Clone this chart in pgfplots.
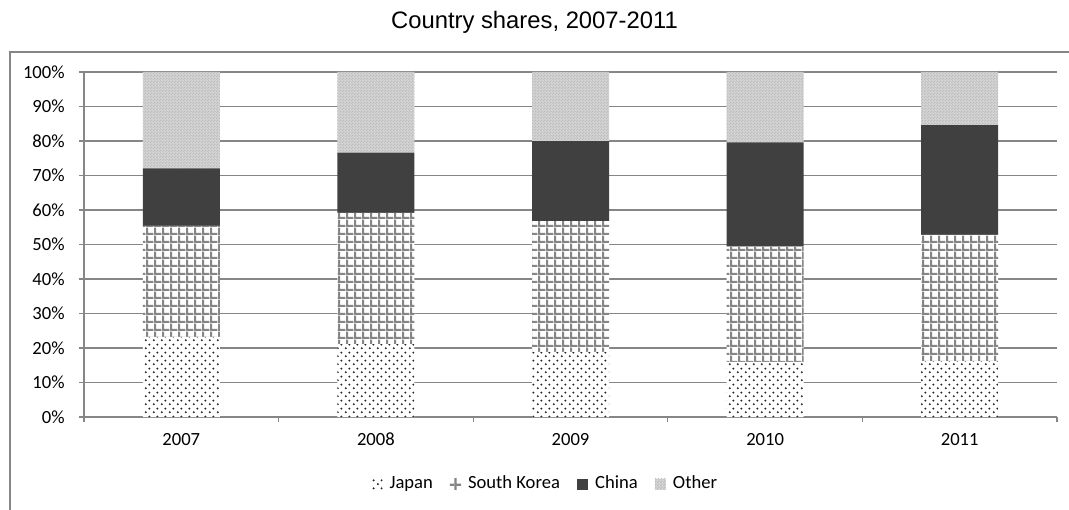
\documentclass[border=0pt]{standalone}
\usepackage{fontspec}
\setmainfont{Carlito}
\newfontfamily\arialfont{Liberation Sans}
\usepackage{pgfplots}
\pgfplotsset{compat=1.18}
\usetikzlibrary{patterns}
\definecolor{axgray}{RGB}{134,134,134}
\definecolor{china}{RGB}{64,64,64}
\definecolor{othergray}{RGB}{212,212,212}
\pgfdeclarepatternformonly{jdots}{\pgfqpoint{0pt}{0pt}}{\pgfqpoint{4pt}{4pt}}{\pgfqpoint{4pt}{4pt}}{%
  \pgfpathcircle{\pgfqpoint{1pt}{1pt}}{0.6pt}%
  \pgfpathcircle{\pgfqpoint{3pt}{3pt}}{0.6pt}%
  \pgfusepath{fill}}
\pgfdeclarepatternformonly{skgrid}{\pgfqpoint{0pt}{0pt}}{\pgfqpoint{3.85pt}{3.85pt}}{\pgfqpoint{3.85pt}{3.85pt}}{%
  \pgfpathrectangle{\pgfqpoint{0pt}{0pt}}{\pgfqpoint{3.85pt}{1.1pt}}%
  \pgfpathrectangle{\pgfqpoint{0pt}{0pt}}{\pgfqpoint{1.1pt}{3.85pt}}%
  \pgfusepath{fill}}
\pgfdeclarepatternformonly{ochecker}{\pgfqpoint{0pt}{0pt}}{\pgfqpoint{1.5pt}{1.5pt}}{\pgfqpoint{1.5pt}{1.5pt}}{%
  \pgfpathrectangle{\pgfqpoint{0pt}{0pt}}{\pgfqpoint{0.75pt}{0.75pt}}%
  \pgfpathrectangle{\pgfqpoint{0.75pt}{0.75pt}}{\pgfqpoint{0.75pt}{0.75pt}}%
  \pgfusepath{fill}}
\begin{document}
\begin{tikzpicture}
\path[use as bounding box] (-42pt,-46pt) rectangle (492.5pt,208.5pt);
\draw[axgray, line width=0.7pt] (-37pt,-80pt) -- (-37pt,182.5pt) -- (520pt,182.5pt);
\node[font=\arialfont\fontsize{11.9}{14}\selectfont] at (225.25pt,197.5pt) {Country shares, 2007-2011};
\begin{axis}[
  at={(0pt,0pt)}, anchor=south west,
  scale only axis, width=486.5pt, height=172.5pt,
  xmin=-0.5, xmax=4.5, ymin=0, ymax=100,
  ybar stacked, bar width=38.5pt,
  axis x line*=bottom, axis y line*=left,
  axis line style={axgray, line width=0.8pt},
  ymajorgrids, grid style={axgray, line width=0.6pt},
  ytick={0,10,...,100},
  yticklabel={\pgfmathprintnumber{\tick}\%},
  xtick={-0.5,0.5,...,4.5}, xticklabels={},
  extra x ticks={0,1,2,3,4},
  extra x tick labels={2007,2008,2009,2010,2011},
  extra x tick style={major tick length=0pt, grid=none},
  tick align=outside, major tick length=2.5pt,
  tick style={axgray, line width=0.6pt},
  tick label style={font=\fontsize{9.3}{11}\selectfont, inner sep=0pt},
  xticklabel style={anchor=north, text height=6.5pt, text depth=1.5pt, yshift=-7.5pt},
  yticklabel style={xshift=-7pt},
  /pgf/number format/assume math mode=true,
  legend columns=4,
  legend style={at={(0.474,-0.195)}, anchor=center, draw=none, fill=none,
    font=\fontsize{9.3}{11}\selectfont,
    nodes={text height=6.5pt, text depth=2pt, inner sep=1pt},
    /tikz/every odd column/.append style={column sep=2.5pt},
    /tikz/every even column/.append style={column sep=7.5pt}},
  legend image code/.code={\draw[#1,draw=none] (0pt,-2.8pt) rectangle (5.6pt,2.8pt);},
]
\addplot[fill=white, draw=none, postaction={pattern=jdots, pattern color=black!85}]
  coordinates {(0,23.2) (1,21.1) (2,18.9) (3,16.0) (4,16.2)};
\addplot[fill=white, draw=none, postaction={pattern=skgrid, pattern color=black!48}]
  coordinates {(0,32.2) (1,38.1) (2,37.9) (3,33.4) (4,36.6)};
\addplot[fill=china, draw=none]
  coordinates {(0,16.7) (1,17.4) (2,23.2) (3,30.2) (4,31.8)};
\addplot[fill=othergray, draw=none, postaction={pattern=ochecker, pattern color=black!26}]
  coordinates {(0,27.9) (1,23.4) (2,20.0) (3,20.4) (4,15.4)};
\legend{Japan, South Korea, China, Other}
\end{axis}
\end{tikzpicture}
\end{document}
